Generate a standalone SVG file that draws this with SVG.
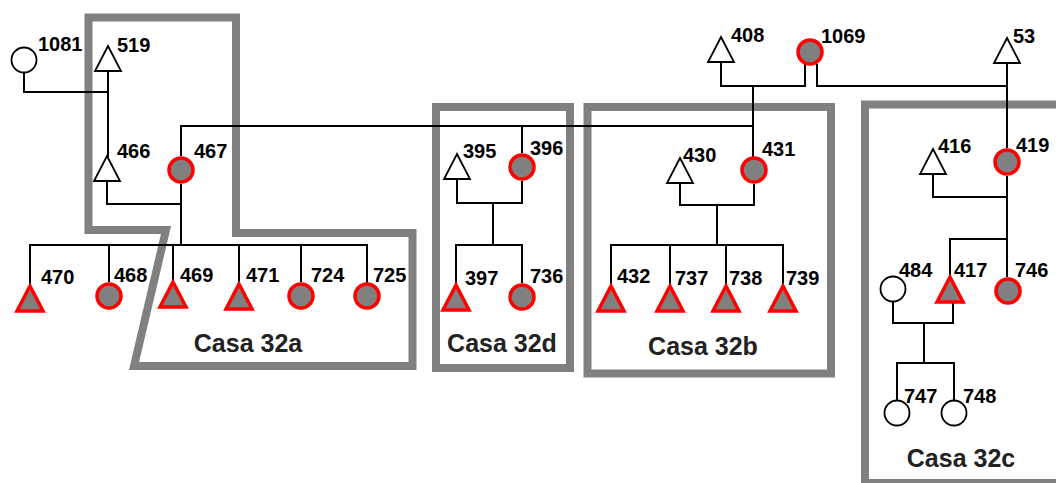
<svg xmlns="http://www.w3.org/2000/svg" width="1056" height="483" viewBox="0 0 1056 483">
<style>
.box{fill:none;stroke:#808080;stroke-width:8;stroke-linejoin:miter}
.ln{fill:none;stroke:#000;stroke-width:2}
.open{fill:#fff;stroke:#000;stroke-width:1.8;stroke-linejoin:miter}
.aff{fill:#808080;stroke:#ff0000;stroke-width:3.5;stroke-linejoin:miter}
.lbl{font-family:"Liberation Sans",Arial,sans-serif;font-weight:bold;font-size:20px;fill:#000}
.case{font-family:"Liberation Sans",Arial,sans-serif;font-weight:bold;font-size:25px;fill:#222;text-anchor:middle}
</style>
<defs>
<path id="tri" d="M0,0 L13,25 L-13,25 Z"/>
</defs>
<rect width="1056" height="483" fill="#fff"/>

<g id="casas">
<path class="box" d="M88.5,17.5 L236,17.5 L236,233 L412.5,233 L412.5,366 L134,366 L166,230 L88.5,230 Z"/>
<rect class="box" x="436" y="107" width="134" height="261"/>
<rect class="box" x="587.5" y="107" width="243.5" height="266.5"/>
<rect class="box" x="865" y="104.5" width="220" height="378.5"/>
<text class="case" x="248" y="352">Casa 32a</text>
<text class="case" x="502" y="352">Casa 32d</text>
<text class="case" x="703" y="355">Casa 32b</text>
<text class="case" x="961" y="467">Casa 32c</text>
</g>

<g id="connectors">
<path class="ln" d="M24,72 V92 H108"/>
<path class="ln" d="M108,71 V157"/>
<path class="ln" d="M107,181 V204 H181"/>
<path class="ln" d="M181,184 V245"/>
<path class="ln" d="M181,156 V126 H753"/>
<path class="ln" d="M30,286 V245 H367 V284"/>
<path class="ln" d="M109,245 V282"/>
<path class="ln" d="M173,245 V282"/>
<path class="ln" d="M239,245 V284"/>
<path class="ln" d="M301,245 V282"/>
<path class="ln" d="M721,62 V86 H805 V64"/>
<path class="ln" d="M817,64 V86 H1007"/>
<path class="ln" d="M753,86 V157"/>
<path class="ln" d="M1007,63 V148"/>
<path class="ln" d="M1007,176 V239"/>
<path class="ln" d="M522,126 V153"/>
<path class="ln" d="M457,179 V203 H522 V181"/>
<path class="ln" d="M493,203 V245"/>
<path class="ln" d="M456,285 V245 H522 V283"/>
<path class="ln" d="M680,183 V205 H754 V184"/>
<path class="ln" d="M717,205 V245"/>
<path class="ln" d="M611,286 V245 H783 V286"/>
<path class="ln" d="M670,245 V286"/>
<path class="ln" d="M726,245 V286"/>
<path class="ln" d="M933,174 V197 H1007"/>
<path class="ln" d="M950,277 V239 H1007 V277"/>
<path class="ln" d="M893,301 V323 H953 V301"/>
<path class="ln" d="M924,323 V363"/>
<path class="ln" d="M897,401 V363 H954 V401"/>
</g>

<g id="n1081"><circle class="open" cx="24" cy="60" r="12.5"/><text class="lbl" x="38" y="51">1081</text></g>
<g id="n519"><use href="#tri" class="open" x="108" y="46"/><text class="lbl" x="117" y="52">519</text></g>
<g id="n466"><use href="#tri" class="open" x="107" y="156"/><text class="lbl" x="117" y="158">466</text></g>
<g id="n467"><circle class="aff" cx="181" cy="170" r="12"/><text class="lbl" x="194" y="158">467</text></g>
<g id="n470"><use href="#tri" class="aff" x="30" y="286"/><text class="lbl" x="41" y="284">470</text></g>
<g id="n468"><circle class="aff" cx="109" cy="296" r="12"/><text class="lbl" x="114" y="282">468</text></g>
<g id="n469"><use href="#tri" class="aff" x="173" y="282"/><text class="lbl" x="180" y="282">469</text></g>
<g id="n471"><use href="#tri" class="aff" x="239" y="284"/><text class="lbl" x="246" y="282">471</text></g>
<g id="n724"><circle class="aff" cx="301" cy="296" r="12"/><text class="lbl" x="311" y="282">724</text></g>
<g id="n725"><circle class="aff" cx="367" cy="296" r="12"/><text class="lbl" x="373" y="282">725</text></g>

<g id="n395"><use href="#tri" class="open" x="457" y="154"/><text class="lbl" x="463" y="158">395</text></g>
<g id="n396"><circle class="aff" cx="522" cy="167" r="12"/><text class="lbl" x="530" y="155">396</text></g>
<g id="n397"><use href="#tri" class="aff" x="456" y="285"/><text class="lbl" x="465" y="285">397</text></g>
<g id="n736"><circle class="aff" cx="522" cy="297" r="12"/><text class="lbl" x="530" y="283">736</text></g>

<g id="n408"><use href="#tri" class="open" x="721" y="37"/><text class="lbl" x="731" y="42">408</text></g>
<g id="n1069"><circle class="aff" cx="810" cy="52" r="12"/><text class="lbl" x="821" y="43">1069</text></g>
<g id="n53"><use href="#tri" class="open" x="1007" y="38"/><text class="lbl" x="1013" y="43">53</text></g>

<g id="n430"><use href="#tri" class="open" x="680" y="158"/><text class="lbl" x="683" y="162">430</text></g>
<g id="n431"><circle class="aff" cx="754" cy="170" r="12"/><text class="lbl" x="762" y="156">431</text></g>
<g id="n432"><use href="#tri" class="aff" x="611" y="286"/><text class="lbl" x="617" y="283">432</text></g>
<g id="n737"><use href="#tri" class="aff" x="670" y="286"/><text class="lbl" x="675" y="285">737</text></g>
<g id="n738"><use href="#tri" class="aff" x="726" y="286"/><text class="lbl" x="729" y="285">738</text></g>
<g id="n739"><use href="#tri" class="aff" x="783" y="286"/><text class="lbl" x="786" y="285">739</text></g>

<g id="n416"><use href="#tri" class="open" x="933" y="149"/><text class="lbl" x="938" y="153">416</text></g>
<g id="n419"><circle class="aff" cx="1007" cy="162" r="12"/><text class="lbl" x="1016" y="152">419</text></g>
<g id="n484"><circle class="open" cx="893" cy="289" r="12.5"/><text class="lbl" x="899" y="277">484</text></g>
<g id="n417"><use href="#tri" class="aff" x="950" y="277"/><text class="lbl" x="954" y="277">417</text></g>
<g id="n746"><circle class="aff" cx="1008" cy="291" r="12"/><text class="lbl" x="1015" y="277">746</text></g>
<g id="n747"><circle class="open" cx="897" cy="413" r="12.5"/><text class="lbl" x="904" y="403">747</text></g>
<g id="n748"><circle class="open" cx="954" cy="413" r="12.5"/><text class="lbl" x="963" y="403">748</text></g>
</svg>
